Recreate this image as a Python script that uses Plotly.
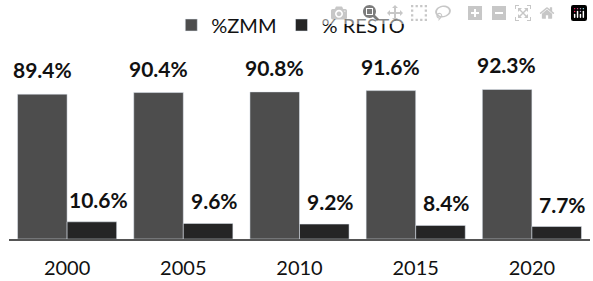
import plotly.graph_objects as go

years = ["2000", "2005", "2010", "2015", "2020"]
zmm = [89.4, 90.4, 90.8, 91.6, 92.3]
resto = [10.6, 9.6, 9.2, 8.4, 7.7]
zmm_labels = ["89.4%", "90.4%", "90.8%", "91.6%", "92.3%"]
resto_labels = ["10.6%", "9.6%", "9.2%", "8.4%", "7.7%"]

c_zmm = "#4d4d4d"
c_resto = "#252525"
FONT = "Lato"

fig = go.Figure()
fig.add_trace(go.Bar(x=years, y=zmm, name="%ZMM", marker_color=c_zmm))
fig.add_trace(go.Bar(x=years, y=resto, name="% RESTO", marker_color=c_resto))

ann = []
for i in range(len(years)):
    ann.append(dict(x=i, y=zmm[i], xref="x", yref="y", text="<b>" + zmm_labels[i] + "</b>",
                    showarrow=False, xshift=-25, yshift=10, yanchor="bottom",
                    font=dict(family=FONT, size=21, color="#111111")))
    ann.append(dict(x=i, y=resto[i], xref="x", yref="y", text="<b>" + resto_labels[i] + "</b>",
                    showarrow=False, xshift=31, yshift=8, yanchor="bottom",
                    font=dict(family=FONT, size=21, color="#111111")))

t, b = 5, 42
H = 281 - t - b
R = H / 1.62
fig.update_layout(
    width=593, height=281,
    margin=dict(l=9, r=3, t=t, b=b, autoexpand=False),
    paper_bgcolor="white", plot_bgcolor="white",
    barmode="group", bargap=0.147,
    legend=dict(orientation="h", x=0.485, xanchor="center", y=(281 - b - 25) / H, yanchor="middle",
                font=dict(family=FONT, size=20, color="#111111"), bgcolor="rgba(0,0,0,0)"),
    xaxis=dict(type="category", range=[-0.5, 4.5], automargin=False, showline=True,
               linecolor="#555555", linewidth=1.5,
               ticks="outside", ticklen=10, tickcolor="rgba(0,0,0,0)",
               tickfont=dict(family=FONT, size=20, color="#111111")),
    yaxis=dict(visible=False, range=[0, R], automargin=False),
    annotations=ann,
)
fig.write_html("out.html", post_script="document.body.style.margin='0';document.body.style.overflow='hidden';")
